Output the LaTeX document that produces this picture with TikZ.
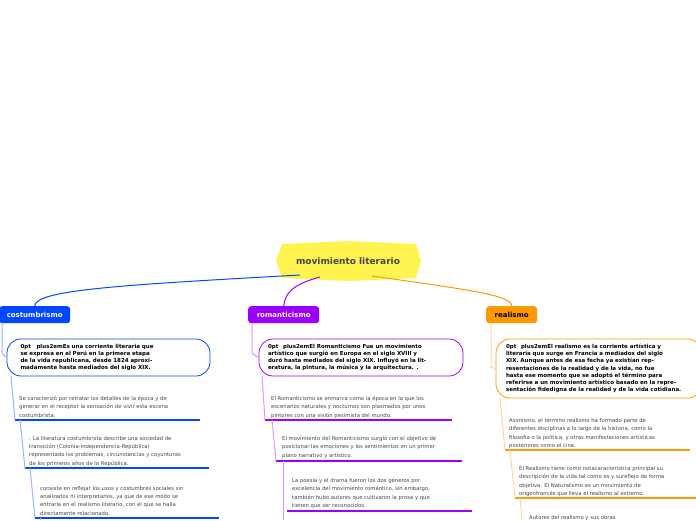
\documentclass[tikz,border=0pt]{standalone}
\usepackage{fontspec}
\setmainfont{DejaVu Sans}
\usetikzlibrary{positioning}
\definecolor{cblue}{HTML}{0047FF}
\definecolor{cpurple}{HTML}{9B00FF}
\definecolor{corange}{HTML}{FF9900}
\definecolor{cyellow}{HTML}{FFF34F}
\definecolor{ctext}{HTML}{444444}

\begin{document}
\begin{tikzpicture}[
    x=1pt, y=-1pt,
    topic/.style={rounded corners=3pt, minimum height=17pt, inner xsep=5pt, font=\fontsize{7}{8}\selectfont\bfseries},
    desc/.style={rounded corners=14pt, thick, fill=white, align=center, font=\fontsize{5.5}{7.2}\selectfont\bfseries\hyphenpenalty=10000, inner sep=3pt},
    item/.style={anchor=north west, align=left, text=ctext, font=\fontsize{5.3}{8.3}\selectfont, inner sep=0pt},
    uline/.style={line width=2.4pt},
    link/.style={line width=1pt}
]
   \useasboundingbox (0,0) rectangle (696,520);

   % Root
   \fill[cyellow] (282,244) -- (348,241) -- (416,244) -- (421,261) -- (416,278) -- (348,281) -- (282,278) -- (276,261) -- cycle;
   \node[font=\fontsize{9}{10}\selectfont\bfseries, text=ctext] (root) at (348,261) {movimiento literario};

   % Topics
   \node[topic, fill=cblue, text=white, anchor=north west, minimum width=71pt] (cos) at (-1,306) {costumbrismo};
   \node[topic, fill=cpurple, text=white, anchor=north west, minimum width=71pt] (rom) at (248,306) {romanticismo};
   \node[topic, fill=corange, text=black, anchor=north west, minimum width=51pt] (rea) at (486,306) {realismo};

   \draw[link, cblue] (300,275) .. controls (120,285) and (35,290) .. (cos.north);
   \draw[link, cpurple] (320,277) .. controls (290,285) and (285,295) .. (rom.north);
   \draw[link, corange] (372,276) .. controls (470,290) and (511,295) .. (rea.north);

   % Descriptions
   \node[desc, draw=cblue, minimum width=203pt, minimum height=37pt, text width=176pt] (cosd) at (108.5,357.5)
     {Es una corriente literaria que se expresa en el Perú en la primera etapa de la vida republicana, desde 1824 aproximadamente hasta mediados del siglo XIX.};
   \node[desc, draw=cpurple, minimum width=204pt, minimum height=37pt, text width=186pt] (romd) at (361,357.5)
     {El Romanticismo Fue un movimiento artístico que surgió en Europa en el siglo XVIII y duró hasta mediados del siglo XIX. Influyó en la literatura, la pintura, la música y la arquitectura. .};
   \node[desc, draw=corange, minimum width=206pt, minimum height=59pt, text width=186pt] (read) at (599,368.5)
     {El realismo es la corriente artística y literaria que surge en Francia a mediados del siglo XIX. Aunque antes de esa fecha ya existían representaciones de la realidad y de la vida, no fue hasta ese momento que se adoptó el término para referirse a un movimiento artístico basado en la representación fidedigna de la realidad y de la vida cotidiana.};

   \draw[link, cblue!40] (cos.south west) ++(3,0) -- ++(0,30) -- (cosd.west);
   \draw[link, cpurple!40] (rom.south west) ++(4,0) -- ++(0,30) -- (romd.west);
   \draw[link, corange!40] (rea.south west) ++(5,0) -- ++(0,44) -- (read.west);

   % costumbrismo items
   \node[item] (c1) at (19,396) {Se caracterizó por retratar los detalles de la época y de\\generar en el receptor la sensación de vivir esta escena\\costumbrista.};
   \node[item] (c2) at (29,436) {. La literatura costumbrista describe una sociedad de\\transición (Colonia-Independencia-República)\\representado los problemas, circunstancias y coyunturas\\de los primeros años de la República.};
   \node[item] (c3) at (40,486) {consiste en reflejar los usos y costumbres sociales sin\\analizarlos ni interpretarlos, ya que de ese modo se\\entraría en el realismo literario, con el que se halla\\directamente relacionado.};
   \draw[uline, cblue] (15,420) -- (200,420);
   \draw[uline, cblue] (25,468) -- (209,468);
   \draw[uline, cblue] (35,518) -- (219,518);
   \draw[link, cblue!40] (11,376) -- (15,420);
   \draw[link, cblue!40] (20,420) -- (25,468);
   \draw[link, cblue!40] (30,468) -- (35,518);
   \draw[link, cblue!40] (40,518) -- (40,520);

   % romanticismo items
   \node[item] (r1) at (271,396) {El Romanticismo se enmarca como la época en la que los\\escenarios naturales y nocturnos son plasmados por unos\\pintores con una visión pesimista del mundo.};
   \node[item] (r2) at (282,436) {El movimiento del Romanticismo surgió con el objetivo de\\posicionar las emociones y los sentimientos en un primer\\plano narrativo y artístico.};
   \node[item] (r3) at (292,478) {La poesía y el drama fueron los dos géneros por\\excelencia del movimiento romántico, sin embargo,\\también hubo autores que cultivaron la prosa y que\\tienen que ser reconocidos.};
   \draw[uline, cpurple] (265,420) -- (452,420);
   \draw[uline, cpurple] (276,461) -- (462,461);
   \draw[uline, cpurple] (287,511) -- (472,511);
   \draw[link, cpurple!40] (262,376) -- (265,420);
   \draw[link, cpurple!40] (272,420) -- (276,461);
   \draw[link, cpurple!40] (283,461) -- (283,520);

   % realismo items
   \node[item] (e1) at (509,418) {Asimismo, el término realismo ha formado parte de\\diferentes disciplinas a lo largo de la historia, como la\\filosofía o la política, y otras manifestaciones artísticas\\posteriores como el cine.};
   \node[item] (e2) at (519,466) {El Realismo tiene como notacaracterística principal su\\descripción de la vida tal como es y sureflejo de forma\\objetiva. El Naturalismo es un movimiento de\\origenfrancés que lleva el realismo al extremo.};
   \node[item] (e3) at (529,515) {Autores del realismo y sus obras};
   \draw[uline, corange] (505,450) -- (690,450);
   \draw[uline, corange] (515,498) -- (696,498);
   \draw[link, corange!40] (500,398) -- (505,450);
   \draw[link, corange!40] (510,450) -- (515,498);
   \draw[link, corange!40] (520,498) -- (522,520);
\end{tikzpicture}
\end{document}
